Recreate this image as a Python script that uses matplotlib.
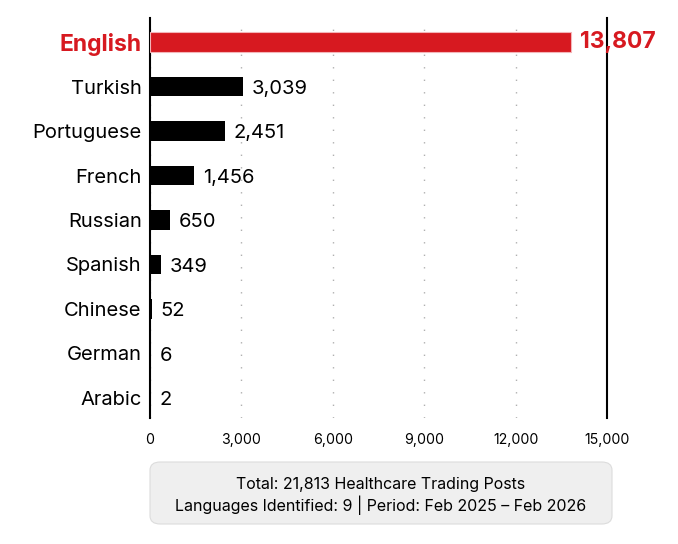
import matplotlib.pyplot as plt
from matplotlib.patches import FancyBboxPatch

languages = ["English", "Turkish", "Portuguese", "French", "Russian",
             "Spanish", "Chinese", "German", "Arabic"]
posts = [13807, 3039, 2451, 1456, 650, 349, 52, 6, 2]
xticks = [0, 3000, 6000, 9000, 12000, 15000]
summary = ["Total: 21,813 Healthcare Trading Posts",
           "Languages Identified: 9 | Period: Feb 2025 \u2013 Feb 2026"]

RED = "#d71920"
plt.rcParams["font.family"] = ["Inter", "DejaVu Sans"]

fig = plt.figure(figsize=(6.78, 5.44), dpi=100)
ax = fig.add_axes([150 / 678, 1 - 418 / 544, 457 / 678, 400 / 544])

ypos = list(range(len(languages)))
colors = [RED] + ["black"] * (len(languages) - 1)
ax.barh(ypos[1:], posts[1:], height=0.43, color=colors[1:], zorder=3)
ax.barh(0, posts[0], height=0.43, color=RED, edgecolor="#f3b5b8", linewidth=0.8, zorder=3)

for i, v in enumerate(posts):
    if i == 0:
        ax.text(v + 300, i, f"{v:,}", va="center", ha="left", fontsize=16.5,
                fontweight="bold", color=RED, zorder=4)
    else:
        ax.text(v + 300, i + 0.05, f"{v:,}", va="center", ha="left", fontsize=14.5,
                color="black", zorder=4)

ax.set_xlim(0, 15000)
ax.set_ylim(8.45, -0.54)
ax.set_xticks(xticks)
ax.set_xticklabels([f"{t:,}" for t in xticks], fontsize=10.2)
ax.set_yticks(ypos)
ax.set_yticklabels(languages, fontsize=14.5)
ax.get_yticklabels()[0].set_color(RED)
ax.get_yticklabels()[0].set_fontweight("bold")
ax.get_yticklabels()[0].set_fontsize(16.5)
ax.tick_params(axis="both", length=0)
ax.tick_params(axis="y", pad=6)
ax.tick_params(axis="x", pad=11)

ax.xaxis.grid(True, linestyle=(0, (1, 8)), color="#b0b0b0", linewidth=1, zorder=0)
for s in ["top", "bottom"]:
    ax.spines[s].set_visible(False)
ax.spines["left"].set_linewidth(1.5)
ax.spines["right"].set_linewidth(1.5)

box = FancyBboxPatch((150 / 678, 1 - 524 / 544), 462 / 678, 62 / 544,
                     boxstyle="round,pad=0,rounding_size=0.015",
                     transform=fig.transFigure, facecolor="#efefef",
                     edgecolor="#dcdcdc", linewidth=0.8)
fig.patches.append(box)
fig.text(381 / 678, 1 - 484 / 544, summary[0], ha="center", va="center", fontsize=11.5)
fig.text(381 / 678, 1 - 505 / 544, summary[1], ha="center", va="center", fontsize=11.5)

fig.savefig("out.png", dpi=100)
